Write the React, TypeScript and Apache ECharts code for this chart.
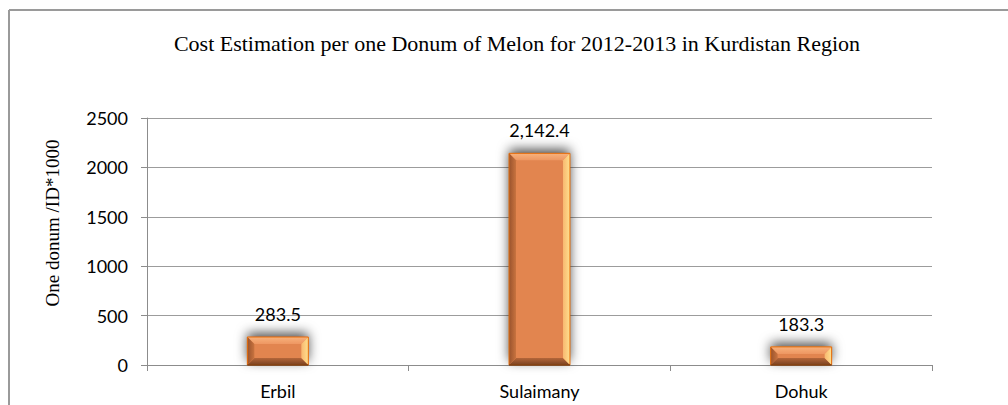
import React, { useEffect, useRef } from "react";
import * as echarts from "echarts";

const categories = ["Erbil", "Sulaimany", "Dohuk"];
const values = [283.5, 2142.4, 183.3];
const yTicks = [0, 500, 1000, 1500, 2000, 2500];
const titleText = "Cost Estimation per one Donum of Melon for 2012-2013 in Kurdistan Region";
const yAxisTitle = "One donum /ID*1000";

const BAR_RATIO = 0.233;

export default function App() {
  const ref = useRef<HTMLDivElement>(null);
  useEffect(() => {
    if (!ref.current) return;
    const chart = echarts.init(ref.current, undefined, { renderer: "svg" });
    const sansFont = "Lato";
    const option: any = {
      animation: false,
      backgroundColor: "#ffffff",
      grid: { left: 147, right: 76, top: 118, bottom: 40 },
      title: {
        text: titleText,
        left: 512,
        top: 27,
        textAlign: "center",
        textStyle: {
          fontFamily: "Liberation Serif",
          fontSize: 22,
          fontWeight: "normal",
          color: "#000",
        },
      },
      graphic: [
        {
          type: "line",
          shape: { x1: 9, y1: 10, x2: 1008, y2: 10 },
          style: { stroke: "#9a9a9a", lineWidth: 2 },
          silent: true,
        },
        {
          type: "line",
          shape: { x1: 9, y1: 10, x2: 9, y2: 405 },
          style: { stroke: "#9a9a9a", lineWidth: 2 },
          silent: true,
        },
        {
          type: "text",
          x: 52,
          y: 223,
          rotation: Math.PI / 2,
          style: {
            text: yAxisTitle,
            fontFamily: "Liberation Serif",
            fontSize: 19,
            fill: "#000",
            textAlign: "center",
            textVerticalAlign: "middle",
          },
        },
      ],
      xAxis: {
        type: "category",
        data: categories,
        axisLine: { show: true, lineStyle: { color: "#8c8c8c", width: 1 } },
        axisTick: { show: true, alignWithLabel: false, length: 6, lineStyle: { color: "#8c8c8c" } },
        axisLabel: {
          margin: 17,
          fontFamily: sansFont,
          fontSize: 18,
          color: "#000",
        },
        splitLine: { show: false },
      },
      yAxis: {
        type: "value",
        min: yTicks[0],
        max: yTicks[yTicks.length - 1],
        interval: 500,
        axisLine: { show: true, lineStyle: { color: "#8c8c8c", width: 1 } },
        axisTick: { show: true, length: 6, lineStyle: { color: "#8c8c8c" } },
        axisLabel: {
          margin: 19,
          fontFamily: sansFont,
          fontSize: 18,
          color: "#000",
          formatter: (v: number) => String(v),
        },
        splitLine: { show: true, lineStyle: { color: "#9c9c9c", width: 1 } },
      },
      series: [
        {
          type: "bar",
          data: values,
          barWidth: (BAR_RATIO * 100).toFixed(1) + "%",
          itemStyle: {
            color: "#E2854F",
            borderColor: "#E46C0A",
            borderWidth: 1,
            shadowColor: "rgba(0,0,0,0.7)",
            shadowBlur: 12,
            shadowOffsetY: -4,
          },
          label: {
            show: true,
            position: "top",
            distance: 14,
            fontFamily: sansFont,
            fontSize: 18,
            color: "#000",
            formatter: (p: any) =>
              Number(p.value).toLocaleString("en-US", {
                minimumFractionDigits: 1,
                maximumFractionDigits: 1,
              }),
          },
          z: 2,
        },
        {
          type: "custom",
          data: categories.map((c, i) => [i, values[i]]),
          encode: { x: 0, y: 1 },
          z: 3,
          silent: true,
          renderItem: (params: any, api: any) => {
            const top = api.coord([api.value(0), api.value(1)]);
            const base = api.coord([api.value(0), 0]);
            const w = api.size([1, 0])[0] * BAR_RATIO;
            const L = top[0] - w / 2;
            const R = top[0] + w / 2;
            const T = top[1];
            const B = base[1];
            const b = Math.min(7, (B - T) / 2);
            return {
              type: "group",
              children: [
                {
                  type: "polygon",
                  shape: { points: [[L, T], [R, T], [R - b, T + b], [L + b, T + b]] },
                  style: {
                    fill: new echarts.graphic.LinearGradient(0, 0, 0, 1, [
                      { offset: 0, color: "#F8B27C" },
                      { offset: 1, color: "#EE9762" },
                    ]),
                  },
                },
                {
                  type: "polygon",
                  shape: { points: [[L, B], [R, B], [R - b, B - b], [L + b, B - b]] },
                  style: {
                    fill: new echarts.graphic.LinearGradient(0, 0, 0, 1, [
                      { offset: 0, color: "#B4663A" },
                      { offset: 1, color: "#7A4220" },
                    ]),
                  },
                },
                {
                  type: "polygon",
                  shape: { points: [[L, T], [L + b, T + b], [L + b, B - b], [L, B]] },
                  style: {
                    fill: new echarts.graphic.LinearGradient(0, 0, 1, 0, [
                      { offset: 0, color: "#99532D" },
                      { offset: 1, color: "#C8733F" },
                    ]),
                  },
                },
                {
                  type: "polygon",
                  shape: { points: [[R, T], [R - b, T + b], [R - b, B - b], [R, B]] },
                  style: {
                    fill: new echarts.graphic.LinearGradient(0, 0, 1, 0, [
                      { offset: 0, color: "#F8B870" },
                      { offset: 1, color: "#FFE08E" },
                    ]),
                  },
                },
                {
                  type: "rect",
                  shape: { x: L, y: T, width: R - L, height: B - T },
                  style: { fill: "none", stroke: "#E46C0A", lineWidth: 1 },
                },
                {
                  type: "line",
                  shape: { x1: L, y1: B, x2: R, y2: B },
                  style: { stroke: "#5a2e14", lineWidth: 1.2 },
                },
              ],
            };
          },
        },
      ],
    };
    chart.setOption(option);
    return () => chart.dispose();
  }, []);
  return (
    <div
      ref={ref}
      style={{ position: "fixed", left: 0, top: 0, width: 1008, height: 405, background: "#fff" }}
    />
  );
}
